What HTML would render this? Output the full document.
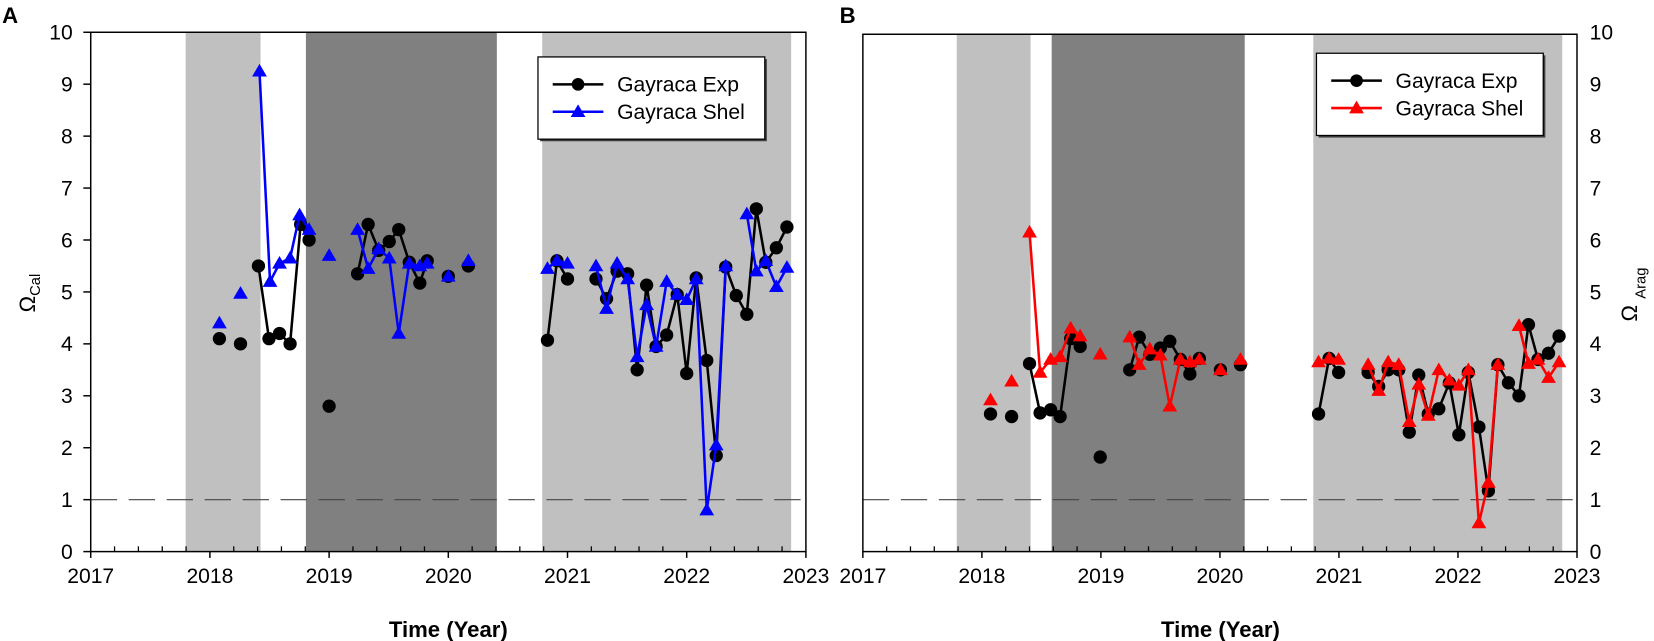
<!DOCTYPE html>
<html><head><meta charset="utf-8"><style>
html,body{margin:0;padding:0;background:#fff;}
svg{display:block;font-family:"Liberation Sans",Arial,sans-serif;}
</style></head><body>
<svg id="s" xmlns="http://www.w3.org/2000/svg" width="1654" height="641" viewBox="0 0 1568 608" preserveAspectRatio="none"></svg>
<script>
const S=document.getElementById('s');
let h='';
const Y0=523.2,K=49.26;
const vy=v=>Y0-K*v;
function panel(x0,x1,top,bands,right){
  for(const b of bands) h+=`<rect x="${b[0]}" y="${top}" width="${b[1]-b[0]}" height="${Y0-top}" fill="${b[2]}"/>`;
  h+=`<line x1="${x0}" y1="${vy(1)}" x2="${x1}" y2="${vy(1)}" stroke="#444" stroke-width="1" stroke-dasharray="25,11"/>`;
  h+=`<rect x="${x0}" y="${top}" width="${x1-x0}" height="${Y0-top}" fill="none" stroke="#000" stroke-width="1.4"/>`;
  const py=(x1-x0)/6;
  for(let i=0;i<=30;i++){
    const x=x0+i*py/5;
    if(i%5==0){h+=`<line x1="${x}" y1="${Y0}" x2="${x}" y2="${Y0+6}" stroke="#000" stroke-width="1.4"/>`;
      h+=`<text x="${x}" y="553" font-size="20" text-anchor="middle">${2017+i/5}</text>`;}
    else h+=`<line x1="${x}" y1="${Y0}" x2="${x}" y2="${Y0-5}" stroke="#000" stroke-width="1.2"/>`;
  }
  for(let v=0;v<=10;v++){
    if(!right){h+=`<line x1="${x0-7}" y1="${vy(v)}" x2="${x0}" y2="${vy(v)}" stroke="#000" stroke-width="1.4"/>`;
      h+=`<text x="${x0-17}" y="${vy(v)+7}" font-size="20" text-anchor="end">${v}</text>`;}
    else h+=`<text x="${x1+12}" y="${vy(v)+7}" font-size="20" text-anchor="start">${v}</text>`;
  }
}
function series(groups,color,marker){
  for(const g of groups){
    if(g.length>1) h+=`<polyline points="${g.map(p=>p[0]+','+vy(p[1])).join(' ')}" fill="none" stroke="${color}" stroke-width="2.4" stroke-linejoin="round"/>`;
  }
  for(const g of groups)for(const p of g){
    const x=p[0],y=vy(p[1]);
    if(marker=='c') h+=`<circle cx="${x}" cy="${y}" r="6.3" fill="#000"/>`;
    else h+=`<polygon points="${x},${y-7} ${x-7},${y+5} ${x+7},${y+5}" fill="${color}"/>`;
  }
}
function legend(x,y,w,c2){
  const H=78;
  h+=`<rect x="${x+2}" y="${y+2}" width="${w}" height="${H}" fill="#404040"/>`;
  h+=`<rect x="${x}" y="${y}" width="${w}" height="${H}" fill="#fff" stroke="#000" stroke-width="1.2"/>`;
  h+=`<line x1="${x+14}" y1="${y+26}" x2="${x+62}" y2="${y+26}" stroke="#000" stroke-width="2.4"/><circle cx="${x+38}" cy="${y+26}" r="6" fill="#000"/>`;
  h+=`<line x1="${x+14}" y1="${y+52}" x2="${x+62}" y2="${y+52}" stroke="${c2}" stroke-width="2.4"/><polygon points="${x+38},${y+45} ${x+31},${y+57} ${x+45},${y+57}" fill="${c2}"/>`;
  h+=`<text x="${x+75}" y="${y+33}" font-size="20">Gayraca Exp</text><text x="${x+75}" y="${y+59}" font-size="20">Gayraca Shel</text>`;
}
panel(86,764,30.6,[[176,247,'#c0c0c0'],[290,471,'#808080'],[514,750,'#c0c0c0']],false);
const Ab=[[[208,4.1]],[[228,4.0]],[[245,5.5],[255,4.1],[265,4.2],[275,4.0],[285,6.3],[293,6.0]],[[312,2.8]],
[[339,5.35],[349,6.3],[359,5.8],[369,5.97],[378,6.2],[388,5.57],[398,5.17],[405,5.6]],[[425,5.3]],[[444,5.5]],
[[519,4.07],[528,5.6],[538,5.25]],
[[565,5.25],[575,4.87],[585,5.4],[595,5.35],[604,3.5],[613,5.13],[622,3.95],[632,4.17],[642,4.95],[651,3.43],[660,5.27],[670,3.68],[679,1.85],[688,5.48],[698,4.93],[708,4.57],[717,6.6],[726,5.57],[736,5.85],[746,6.25]]];
const As=[[[208,4.4]],[[228,4.97]],[[246,9.25],[256,5.2],[265,5.55],[275,5.65],[284,6.48],[293,6.2]],[[312,5.7]],
[[339,6.2],[349,5.45],[359,5.83],[369,5.65],[378,4.2],[388,5.55],[398,5.5],[405,5.55]],[[425,5.3]],[[444,5.6]],
[[519,5.45],[528,5.6],[538,5.55]],
[[565,5.5],[575,4.68],[585,5.55],[595,5.25],[604,3.75],[613,4.75],[622,3.95],[632,5.2],[642,4.95],[651,4.85],[660,5.25],[670,0.8],[679,2.05],[688,5.5]],
[[708,6.5],[717,5.4],[726,5.6],[736,5.1],[746,5.47]]];
series(Ab,'#000','c');series(As,'#0000ff','t');
legend(510,54,215,'#0000ff');
panel(818,1495,32.5,[[907,977,'#c0c0c0'],[997,1180,'#808080'],[1245,1481,'#c0c0c0']],true);
const Bb=[[[939,2.65]],[[959,2.6]],[[976,3.62],[986,2.67],[996,2.73],[1005,2.6],[1015,4.1],[1024,3.95]],[[1043,1.82]],
[[1071,3.5],[1080,4.13],[1090,3.8],[1100,3.92],[1109,4.05],[1119,3.7],[1128,3.42],[1137,3.72]],[[1157,3.5]],[[1176,3.6]],
[[1250,2.65],[1260,3.72],[1269,3.45]],
[[1297,3.45],[1307,3.18],[1316,3.5],[1326,3.5],[1336,2.3],[1345,3.4],[1354,2.65],[1364,2.75],[1374,3.25],[1383,2.25],[1392,3.45],[1402,2.4],[1411,1.17],[1420,3.6],[1430,3.25],[1440,3.0],[1449,4.37],[1458,3.7],[1468,3.82],[1478,4.15]]];
const Bs=[[[939,2.92]],[[959,3.28]],[[976,6.15],[986,3.45],[996,3.7],[1005,3.75],[1015,4.3],[1024,4.15]],[[1043,3.8]],
[[1071,4.13],[1080,3.6],[1090,3.9],[1100,3.78],[1109,2.8],[1119,3.7],[1128,3.65],[1137,3.7]],[[1157,3.5]],[[1176,3.7]],
[[1250,3.65],[1260,3.72],[1269,3.7]],
[[1297,3.6],[1307,3.1],[1316,3.65],[1326,3.6],[1336,2.5],[1345,3.22],[1354,2.62],[1364,3.5],[1374,3.3],[1383,3.2],[1392,3.5],[1402,0.55],[1411,1.33],[1420,3.6]],
[[1440,4.35],[1449,3.62],[1458,3.7],[1468,3.35],[1478,3.65]]];
series(Bb,'#000','c');series(Bs,'#ff0000','t');
legend(1248,50.5,215,'#ff0000');
h+=`<text x="2" y="22" font-size="21" font-weight="bold">A</text>`;
h+=`<text x="796" y="22" font-size="21" font-weight="bold">B</text>`;
h+=`<text x="425" y="604" font-size="21" font-weight="bold" text-anchor="middle">Time (Year)</text>`;
h+=`<text x="1157" y="604" font-size="21" font-weight="bold" text-anchor="middle">Time (Year)</text>`;
h+=`<text transform="translate(33,278) rotate(-90)" font-size="21" text-anchor="middle">Ω<tspan font-size="14" dy="5">Cal</tspan></text>`;
h+=`<text transform="translate(1552,305) rotate(-90)" font-size="21" text-anchor="start">Ω<tspan font-size="14" dx="6" dy="8">Arag</tspan></text>`;
S.innerHTML=h;
</script>
</body></html>
